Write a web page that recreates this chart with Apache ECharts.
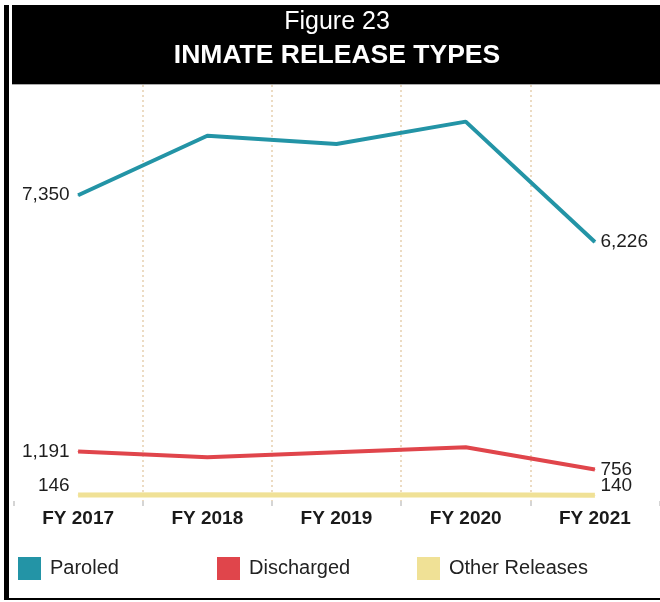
<!DOCTYPE html>
<html>
<head>
<meta charset="utf-8">
<script src="https://cdn.jsdelivr.net/npm/echarts@6/dist/echarts.min.js"></script>
<style>
    html, body { margin: 0; padding: 0; background: #fff; }
    #chart { width: 660px; height: 602px; }
</style>
</head>
<body>
<div id="chart"></div>
<script>
    // fiscal years and release counts
    const years = ['FY 2017', 'FY 2018', 'FY 2019', 'FY 2020', 'FY 2021'];
    const paroled = [7350, 8780, 8580, 9120, 6226];
    const discharged = [1191, 1050, 1170, 1290, 756];
    const otherReleases = [146, 150, 145, 148, 140];

    const seriesNames = ['Paroled', 'Discharged', 'Other Releases'];
    const colors = ['#2394A6', '#E0454B', '#F0E196'];

    const font = '"Liberation Sans", Arial, sans-serif';

    // only first and last point get a number
    function withEndLabels(values, offsetY) {
        let last = values.length - 1;
        return values.map(function (v, i) {
            let item = { value: v, label: { show: false } };
            if (i === 0) {
                item.label = { show: true, position: 'left', distance: 8, offset: [0, offsetY] };
            } else if (i === last) {
                item.label = { show: true, position: 'right', distance: 5, offset: [0, offsetY] };
            }
            return item;
        });
    }

    function makeSeries(name, values, color, width, offsetY) {
        return {
            name: name,
            type: 'line',
            data: withEndLabels(values, offsetY),
            symbol: 'circle',
            symbolSize: 1,
            itemStyle: { color: color },
            lineStyle: { color: color, width: width },
            label: {
                color: '#1e1e1e',
                fontSize: 19,
                fontFamily: font,
                formatter: function (p) {
                    return p.value.toLocaleString('en-US');
                }
            }
        };
    }

    function makeLegend(name, left) {
        return {
            data: [name],
            left: left,
            top: 557,
            padding: 0,
            icon: 'rect',
            itemWidth: 23,
            itemHeight: 23,
            itemGap: 0,
            textStyle: { color: '#222', fontSize: 20, fontFamily: font, padding: [0, 0, 0, 4] }
        };
    }

    const chart = echarts.init(document.getElementById('chart'));
    chart.setOption({
        animation: false,
        backgroundColor: '#fff',
        graphic: [
            { type: 'rect', shape: { x: 12, y: 5, width: 648, height: 79 }, style: { fill: '#000' } },
            { type: 'rect', shape: { x: 12, y: 84, width: 648, height: 1 }, style: { fill: '#aaa' } },
            { type: 'rect', shape: { x: 4, y: 5, width: 5, height: 595 }, style: { fill: '#000' } },
            { type: 'rect', shape: { x: 4, y: 598, width: 656, height: 2 }, style: { fill: '#000' } }
        ],
        title: [
            {
                text: 'Figure 23',
                left: 337,
                top: 10,
                padding: 0,
                textAlign: 'center',
                textStyle: { color: '#fff', fontSize: 25, fontWeight: 'normal', fontFamily: font }
            },
            {
                text: 'INMATE RELEASE TYPES',
                left: 337,
                top: 42,
                padding: 0,
                textAlign: 'center',
                textStyle: { color: '#fff', fontSize: 26.5, fontWeight: 'bold', fontFamily: font }
            }
        ],
        legend: [
            makeLegend(seriesNames[0], 18),
            makeLegend(seriesNames[1], 217),
            makeLegend(seriesNames[2], 417)
        ],
        grid: {
            left: 13.5,
            right: 0.5,
            top: 85,
            bottom: 101,
            containLabel: false
        },
        xAxis: {
            type: 'category',
            data: years,
            boundaryGap: true,
            axisLine: { show: false },
            axisTick: { show: true, length: 5, lineStyle: { color: '#c8c8c8', width: 1.5 } },
            axisLabel: { color: '#1a1a1a', fontSize: 19, fontWeight: 'bold', fontFamily: font, margin: 8 },
            splitLine: {
                show: true,
                showMinLine: false,
                showMaxLine: false,
                lineStyle: { color: '#e6cfae', type: [2, 3], width: 1.5 }
            }
        },
        yAxis: {
            type: 'value',
            min: 0,
            max: 10000,
            show: false
        },
        series: [
            makeSeries(seriesNames[0], paroled, colors[0], 4, 0),
            makeSeries(seriesNames[1], discharged, colors[1], 4, 0),
            makeSeries(seriesNames[2], otherReleases, colors[2], 5, -9)
        ]
    });
</script>
</body>
</html>
